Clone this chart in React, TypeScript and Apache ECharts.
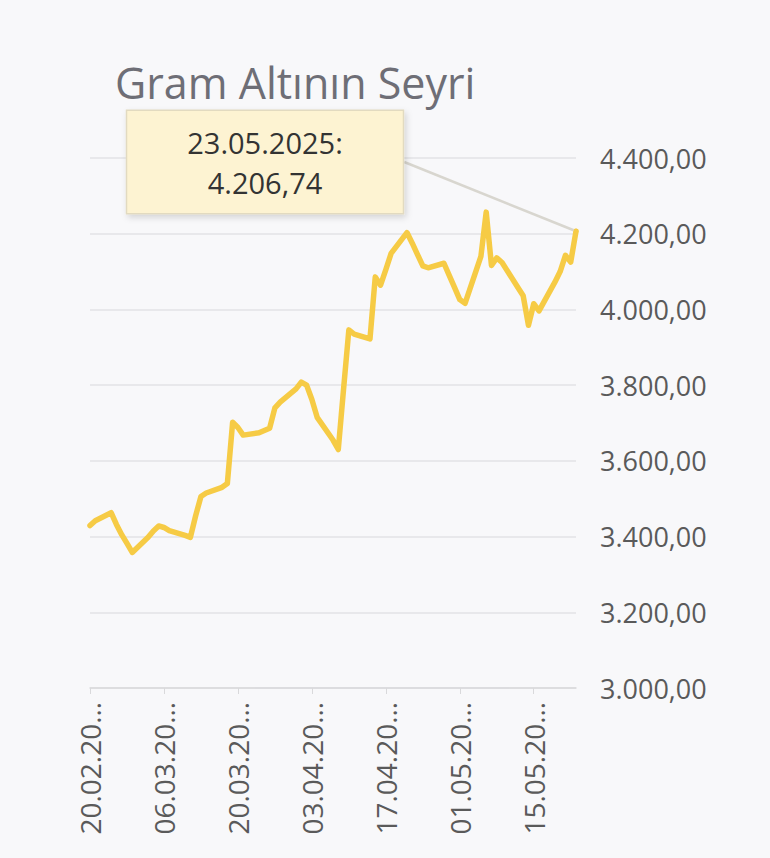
import React, { useEffect, useRef } from "react";
import * as echarts from "echarts";

const TITLE = "Gram Altının Seyri";

const DATES: string[] = [
  "2025-02-20", "2025-02-21", "2025-02-24", "2025-02-25", "2025-02-26", "2025-02-27", "2025-02-28",
  "2025-03-03", "2025-03-04", "2025-03-05", "2025-03-06", "2025-03-07",
  "2025-03-10", "2025-03-11", "2025-03-12", "2025-03-13", "2025-03-14",
  "2025-03-17", "2025-03-18", "2025-03-19", "2025-03-20", "2025-03-21",
  "2025-03-24", "2025-03-25", "2025-03-26", "2025-03-27", "2025-03-28",
  "2025-03-31", "2025-04-01", "2025-04-02", "2025-04-03", "2025-04-04",
  "2025-04-07", "2025-04-08", "2025-04-09", "2025-04-10", "2025-04-11",
  "2025-04-14", "2025-04-15", "2025-04-16", "2025-04-17", "2025-04-18",
  "2025-04-21", "2025-04-22", "2025-04-23", "2025-04-24", "2025-04-25",
  "2025-04-28", "2025-04-29", "2025-04-30", "2025-05-01", "2025-05-02",
  "2025-05-05", "2025-05-06", "2025-05-07", "2025-05-08", "2025-05-09",
  "2025-05-12", "2025-05-13", "2025-05-14", "2025-05-15", "2025-05-16",
  "2025-05-19", "2025-05-20", "2025-05-21", "2025-05-22", "2025-05-23",
];

const PRICES: number[] = [
  3429, 3442, 3463, 3432, 3405, 3382, 3358,
  3398, 3415, 3428, 3424, 3416,
  3403, 3398, 3455, 3506, 3515,
  3530, 3540, 3702, 3688, 3668,
  3674, 3680, 3686, 3740, 3755,
  3790, 3808, 3800, 3762, 3715,
  3655, 3630, 3790, 3946, 3935,
  3922, 4086, 4064, 4105, 4148,
  4203, 4175, 4145, 4115, 4110,
  4122, 4090, 4058, 4026, 4016,
  4140, 4257, 4116, 4136, 4124,
  4058, 4036, 3958, 4015, 3996,
  4072, 4100, 4143, 4125, 4206.74,
];

const TICK_DATES: string[] = [
  "2025-02-20", "2025-03-06", "2025-03-20", "2025-04-03", "2025-04-17", "2025-05-01", "2025-05-15",
];

const Y_MIN = 3000;
const Y_MAX = 4400;
const Y_STEP = 200;

const FONT = "'Open Sans', 'Noto Sans', sans-serif";
const LINE_COLOR = "#F6CB45";
const DAY = 86400000;

function ts(s: string): number {
  const [y, m, d] = s.split("-").map(Number);
  return Date.UTC(y, m - 1, d);
}

const T0 = ts(DATES[0]);
function dayIndex(s: string): number {
  return Math.round((ts(s) - T0) / DAY);
}

function pad2(n: number): string {
  return n < 10 ? "0" + n : String(n);
}

function dateOf(dayIdx: number): Date {
  return new Date(T0 + dayIdx * DAY);
}

function fullDate(dayIdx: number): string {
  const d = dateOf(dayIdx);
  return `${pad2(d.getUTCDate())}.${pad2(d.getUTCMonth() + 1)}.${d.getUTCFullYear()}`;
}

function shortDate(dayIdx: number): string {
  const d = dateOf(dayIdx);
  return `${pad2(d.getUTCDate())}.${pad2(d.getUTCMonth() + 1)}.20…`;
}

function trNum(v: number): string {
  const [i, dec] = v.toFixed(2).split(".");
  return i.replace(/\B(?=(\d{3})+(?!\d))/g, ".") + "," + dec;
}

export default function App() {
  const ref = useRef<HTMLDivElement>(null);

  useEffect(() => {
    if (!ref.current) return;
    const chart = echarts.init(ref.current, null, { renderer: "svg" });
    const last = DATES.length - 1;
    const tickIdx = TICK_DATES.map(dayIndex);

    const data = DATES.map((d, i) => {
      if (i !== last) return { value: [dayIndex(d), PRICES[i]], symbol: "none" };
      return {
        value: [dayIndex(d), PRICES[i]],
        symbol: "circle",
        symbolSize: 5,
        itemStyle: { color: LINE_COLOR },
        label: {
          show: true,
          formatter: (p: any) => `${fullDate(p.value[0])}:\n${trNum(p.value[1])}`,
          fontSize: 29,
          lineHeight: 40,
          color: "#333333",
          fontFamily: FONT,
          backgroundColor: "#FDF3D2",
          borderColor: "#E2DAC0",
          borderWidth: 1.5,
          padding: [12, 60, 10, 60],
          align: "center",
          shadowColor: "rgba(0,0,0,0.15)",
          shadowBlur: 6,
          shadowOffsetX: 2,
          shadowOffsetY: 3,
        },
        labelLine: {
          show: true,
          lineStyle: { color: "#D8D6CF", width: 2.5 },
        },
      };
    });

    chart.setOption({
      animation: false,
      backgroundColor: "#f8f8fa",
      title: {
        text: TITLE,
        left: 110,
        top: 56,
        textStyle: {
          fontSize: 43,
          fontWeight: "normal",
          color: "#6e6e76",
          fontFamily: FONT,
        },
      },
      grid: {
        left: 90,
        right: 194,
        top: 158,
        bottom: 170,
        outerBoundsMode: "none",
      },
      xAxis: {
        type: "value",
        min: 0,
        max: dayIndex(DATES[last]),
        axisLine: { show: true, lineStyle: { color: "#d9d9db", width: 1.5 } },
        axisTick: {
          show: true,
          customValues: tickIdx,
          length: 6,
          lineStyle: { color: "#d9d9db" },
        },
        splitLine: { show: false },
        axisLabel: {
          customValues: tickIdx,
          formatter: (v: number) => shortDate(v),
          rotate: 90,
          margin: 14,
          fontSize: 28,
          color: "#5a5a5a",
          fontFamily: FONT,
        },
      },
      yAxis: {
        type: "value",
        position: "right",
        min: Y_MIN,
        max: Y_MAX,
        interval: Y_STEP,
        axisLine: { show: false },
        axisTick: { show: false },
        splitLine: { lineStyle: { color: "#e3e3e6", width: 1.5 } },
        axisLabel: {
          formatter: (v: number) => trNum(v),
          margin: 24,
          fontSize: 27,
          color: "#5a5a5a",
          fontFamily: FONT,
        },
      },
      series: [
        {
          type: "line",
          data,
          showSymbol: true,
          lineStyle: { color: LINE_COLOR, width: 5.5, join: "round", cap: "round" },
          itemStyle: { color: LINE_COLOR },
          labelLayout: { x: 265, y: 162, align: "center", verticalAlign: "middle" },
          emphasis: { disabled: true },
          z: 3,
        },
      ],
    });

    return () => chart.dispose();
  }, []);

  return (
    <div
      ref={ref}
      style={{
        position: "fixed",
        left: 0,
        top: 0,
        width: 770,
        height: 858,
        background: "#f8f8fa",
      }}
    />
  );
}
